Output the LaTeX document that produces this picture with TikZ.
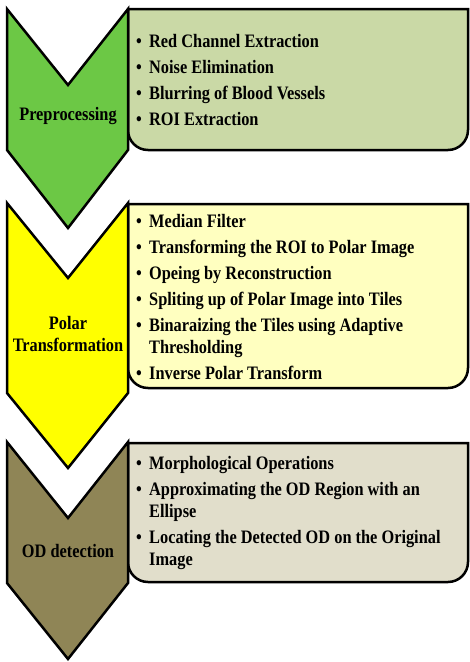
\documentclass[tikz,border=0pt]{standalone}
\usepackage{fontspec}
\setmainfont[FakeStretch=0.86]{Liberation Serif}

\definecolor{prepgreen}{HTML}{6CC845}
\definecolor{prepbox}{HTML}{CAD9A6}
\definecolor{polaryellow}{HTML}{FFFF00}
\definecolor{polarbox}{HTML}{FFFFC0}
\definecolor{odolive}{HTML}{8F8556}
\definecolor{odbox}{HTML}{E1DECB}

\newcommand\itm{\makebox[13pt][l]{\textbullet}}
\newcommand\cont{\hspace*{13pt}}

\begin{document}
\begin{tikzpicture}[x=1pt, y=-1pt,
    chev/.style={draw, line width=2.5pt, line join=miter},
    stepbox/.style={draw, line width=2.5pt},
    stage/.style={font=\fontsize{19}{22}\selectfont\bfseries, align=center, inner sep=0pt},
    list/.style={font=\fontsize{19}{22}\selectfont\bfseries, align=left, inner sep=0pt, anchor=north west}
  ]
  \useasboundingbox (0,0) rectangle (470,662);

  % --- Preprocessing ---
  \draw[stepbox, fill=prepbox] (128,9) -- (468,9) [rounded corners=20pt] -- (468,150) -- (128,150) [sharp corners] -- cycle;
  \draw[chev, fill=prepgreen] (7,9) -- (68,85) -- (128,9) -- (128,150) -- (68,228) -- (7,150) -- cycle;
  \node[stage] (prep) at (68,116) {Preprocessing};
  \node[list] (prepsteps) at (136,34) {\itm Red Channel  Extraction\\[4pt]
    \itm Noise Elimination\\[4pt]
    \itm Blurring  of Blood Vessels\\[4pt]
    \itm ROI Extraction};

  % --- Polar transformation ---
  \draw[stepbox, fill=polarbox] (128,204) -- (468,204) [rounded corners=20pt] -- (468,388) -- (128,388) [sharp corners] -- cycle;
  \draw[chev, fill=polaryellow] (7,203) -- (68,278) -- (128,203) -- (128,393) -- (68,468) -- (7,393) -- cycle;
  \node[stage] (polar) at (68,334) {Polar\\Transformation};
  \node[list] (polarsteps) at (136,214) {\itm Median Filter\\[4pt]
    \itm Transforming  the ROI to Polar Image\\[4pt]
    \itm Opeing by Reconstruction\\[4pt]
    \itm Spliting up of Polar Image into Tiles\\[4pt]
    \itm Binaraizing  the Tiles using Adaptive\\
    \cont Thresholding\\[4pt]
    \itm Inverse Polar Transform};

  % --- OD detection ---
  \draw[stepbox, fill=odbox] (128,443) -- (468,443) [rounded corners=20pt] -- (468,582) -- (128,582) [sharp corners] -- cycle;
  \draw[chev, fill=odolive] (7,442) -- (68,518) -- (128,442) -- (128,583) -- (68,659) -- (7,583) -- cycle;
  \node[stage] (od) at (68,551) {OD detection};
  \node[list] (odsteps) at (136,456) {\itm Morphological  Operations\\[4pt]
    \itm Approximating  the OD Region with  an\\
    \cont Ellipse\\[4pt]
    \itm Locating the Detected OD on the Original\\
    \cont Image};
\end{tikzpicture}
\end{document}
